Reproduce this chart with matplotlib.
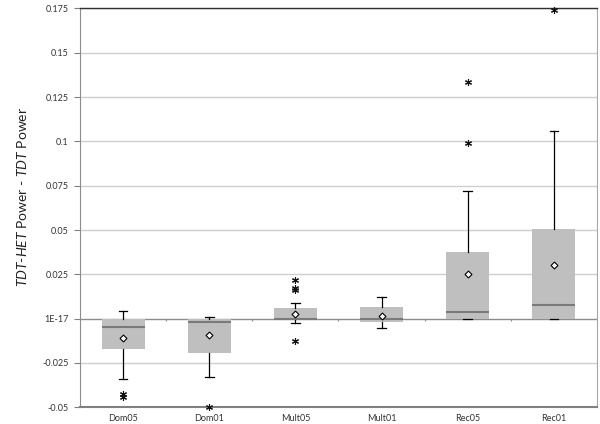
import matplotlib
matplotlib.use("Agg")
import matplotlib.pyplot as plt
from matplotlib.ticker import FixedLocator, FixedFormatter

plt.rcParams['font.family'] = ['Lato', 'DejaVu Sans']
plt.rcParams['mathtext.fontset'] = 'custom'
plt.rcParams['mathtext.it'] = 'Lato:italic'
plt.rcParams['mathtext.rm'] = 'Lato'

categories = ["Dom05", "Dom01", "Mult05", "Mult01", "Rec05", "Rec01"]
whislo = [-0.034, -0.033, -0.0027, -0.005, 0.0, 0.0]
q1 = [-0.0169, -0.0196, 0.0, -0.002, 0.0, 0.0]
med = [-0.0049, -0.002, 0.0, 0.0, 0.0039, 0.0077]
q3 = [0.0, 0.0, 0.0058, 0.0064, 0.0374, 0.0504]
whishi = [0.0041, 0.001, 0.0086, 0.012, 0.0718, 0.106]
means = [-0.0109, -0.0094, 0.0026, 0.0017, 0.0252, 0.0305]
fliers = [[-0.0424, -0.0441], [-0.05], [0.0218, 0.0173, 0.016, -0.0128], [],
          [0.1333, 0.099], [0.174]]

ytick_vals = [-0.05, -0.025, 0.0, 0.025, 0.05, 0.075, 0.1, 0.125, 0.15, 0.175]
ytick_labels = ["-0.05", "-0.025", "1E-17", "0.025", "0.05", "0.075", "0.1", "0.125", "0.15", "0.175"]

fig = plt.figure(figsize=(6, 4.24), dpi=100)
ax = fig.add_axes([0.1333, 0.0394, 0.8617, 0.9406])

stats = []
for i, c in enumerate(categories):
    stats.append(dict(label=c, whislo=whislo[i], q1=q1[i], med=med[i], q3=q3[i],
                      whishi=whishi[i], mean=means[i], fliers=fliers[i]))

pos = list(range(1, len(categories) + 1))
res = ax.bxp(stats, positions=pos, widths=0.5, capwidths=0.1, patch_artist=True,
       showmeans=True, showfliers=True,
       boxprops=dict(facecolor='#bfbfbf', edgecolor='none', linewidth=0),
       medianprops=dict(color='#7a7a7a', linewidth=1.5),
       whiskerprops=dict(color='black', linewidth=0.9),
       capprops=dict(color='black', linewidth=0.9),
       meanprops=dict(marker='D', markerfacecolor='white', markeredgecolor='black',
                      markersize=3.5, markeredgewidth=0.8),
       flierprops=dict(marker=(6, 2, 0), markeredgecolor='#111111', markerfacecolor='black',
                       markersize=5, markeredgewidth=0.8),
       zorder=3)
for f in res['fliers']:
    f.set_clip_on(False)

ax.set_xlim(0.5, len(categories) + 0.5)
ax.set_ylim(-0.05, 0.175)
ax.yaxis.set_major_locator(FixedLocator(ytick_vals))
ax.yaxis.set_major_formatter(FixedFormatter(ytick_labels))
ax.set_xticks(pos)
ax.set_xticklabels(categories)
ax.tick_params(axis='x', length=0, labelsize=6.5, pad=5, colors='#333333')
ax.tick_params(axis='y', length=4, width=0.8, color='#808080', labelsize=6.5, pad=4, labelcolor='#333333')

for v in ytick_vals:
    if v == 0.0:
        ax.axhline(v, color='#8c8c8c', linewidth=1.0, zorder=1)
    else:
        ax.axhline(v, color='#cfcfcf', linewidth=1.0, zorder=1)

boundaries = [p + 0.5 for p in pos[:-1]]
ax.vlines(boundaries, -0.0012, 0.0, color='#8c8c8c', linewidth=0.8, zorder=1)

ax.spines['left'].set_color('#8c8c8c')
ax.spines['bottom'].set_color('#808080')
ax.spines['bottom'].set_linewidth(1.5)
ax.spines['top'].set_color('#303030')
ax.spines['top'].set_linewidth(1.0)
ax.spines['right'].set_color('#a6a6a6')

fig.text(0.037, 0.535, r'$\mathit{TDT}$-$\mathit{HET}$ Power - $\mathit{TDT}$ Power',
         rotation=90, ha='center', va='center', fontsize=10, color='#222222')

fig.savefig("out.png", dpi=100)
